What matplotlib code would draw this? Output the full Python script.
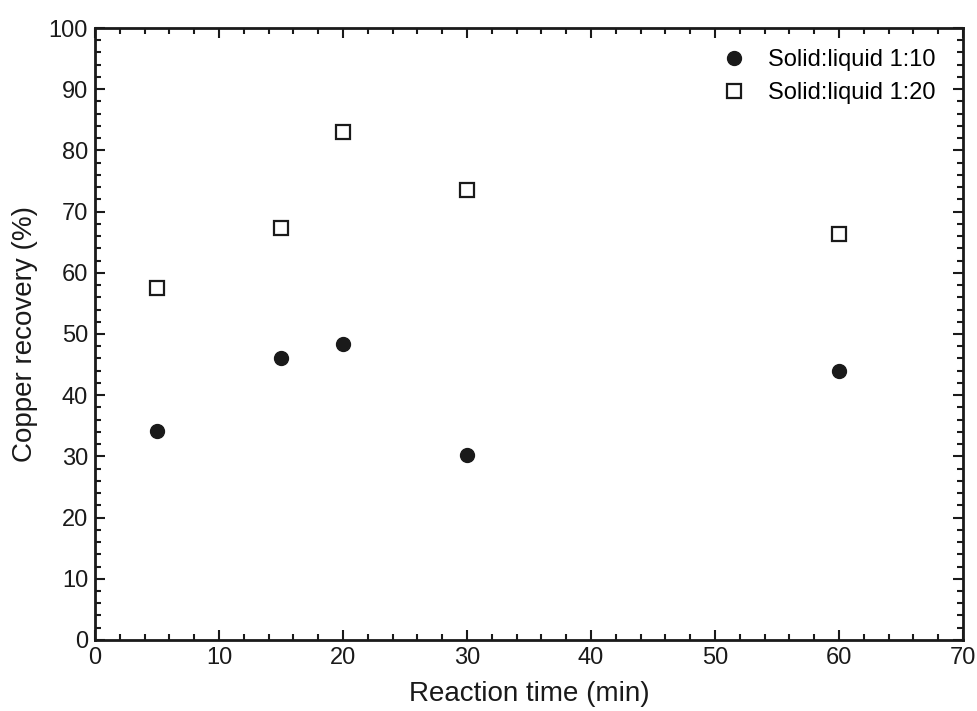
import matplotlib
matplotlib.use('Agg')
import matplotlib.pyplot as plt
from matplotlib.ticker import MultipleLocator

plt.rcParams['font.family'] = ['Liberation Sans', 'DejaVu Sans']

time_min = [5, 15, 20, 30, 60]
recovery_1_10 = [34.2, 46.1, 48.4, 30.2, 44.0]
recovery_1_20 = [57.5, 67.3, 83.0, 73.5, 66.3]

fig = plt.figure(figsize=(9.77, 7.11), dpi=100)
ax = fig.add_axes([0.0972, 0.0999, 0.8885, 0.8607])

ax.plot(time_min, recovery_1_10, 'o', color='#1a1a1a', markersize=10,
        linestyle='none', label='Solid:liquid 1:10')
ax.plot(time_min, recovery_1_20, 's', markerfacecolor='white',
        markeredgecolor='#1a1a1a', markeredgewidth=1.6, markersize=10,
        linestyle='none', label='Solid:liquid 1:20')

ax.set_xlim(0, 70)
ax.set_ylim(0, 100)
ax.xaxis.set_major_locator(MultipleLocator(10))
ax.xaxis.set_minor_locator(MultipleLocator(2))
ax.yaxis.set_major_locator(MultipleLocator(10))
ax.yaxis.set_minor_locator(MultipleLocator(2))
ax.tick_params(which='both', direction='in', top=True, right=True,
               labelsize=17, colors='#1a1a1a', pad=5)
ax.tick_params(which='major', length=7, width=1.5)
ax.tick_params(which='minor', length=4, width=1.5)
for s in ax.spines.values():
    s.set_linewidth(2)
    s.set_color('#1a1a1a')

ax.set_xlabel('Reaction time (min)', fontsize=20, color='#1a1a1a', labelpad=9)
ax.set_ylabel('Copper recovery (%)', fontsize=20, color='#1a1a1a', labelpad=8)

ax.legend(loc='upper right', bbox_to_anchor=(0.993, 1.0), frameon=False,
          fontsize=17, handletextpad=0.7, borderaxespad=0.5,
          labelspacing=0.45, handlelength=1.5)

fig.savefig('out.png', dpi=100)
